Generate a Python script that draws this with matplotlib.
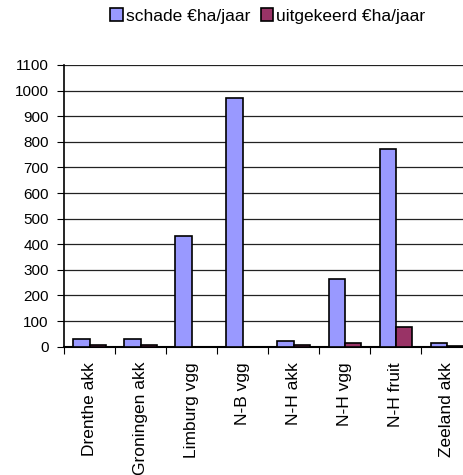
import matplotlib
matplotlib.use("Agg")
import matplotlib.pyplot as plt
import numpy as np

categories = ["Drenthe akk", "Groningen akk", "Limburg vgg", "N-B vgg",
              "N-H akk", "N-H vgg", "N-H fruit", "Zeeland akk"]
schade = [32, 30, 432, 970, 23, 264, 772, 14]
uitgekeerd = [7, 7, 0, 0, 5, 14, 77, 4]
yticks = list(range(0, 1101, 100))

plt.rcParams['font.family'] = ['Liberation Sans', 'DejaVu Sans']

W, H = 464, 475
fig = plt.figure(figsize=(W/100, H/100), dpi=100)
left, right = 64/W, 472.5/W
bottom, top = 1-346.7/H, 1-65/H
ax = fig.add_axes([left, bottom, right-left, top-bottom])

x = np.arange(len(categories))
bw = 0.32
ax.bar(x - bw/2, schade, bw, color='#9999FF', edgecolor='black', linewidth=1.2,
       label='schade €ha/jaar', zorder=3)
ax.bar(x + bw/2, uitgekeerd, bw, color='#993366', edgecolor='black', linewidth=1.2,
       label='uitgekeerd €ha/jaar', zorder=3)

ax.set_xlim(-0.5, len(categories)-0.5)
ax.set_ylim(0, 1100)
ax.set_yticks(yticks)
ax.set_yticklabels([str(v) for v in yticks], fontsize=11)
ax.yaxis.grid(True, color='#222222', linewidth=0.9, zorder=0)
ax.set_axisbelow(True)

ax.set_xticks(x)
ax.set_xticklabels(categories, rotation=90, fontsize=12.5)
ax.tick_params(axis='x', which='major', length=0, pad=11)
ax.set_xticks(np.arange(-0.5, len(categories), 1), minor=True)
ax.tick_params(axis='x', which='minor', length=5, width=0.8, color='black')
ax.tick_params(axis='y', length=5, width=0.8, pad=6, color='black')

for s in ['top', 'right']:
    ax.spines[s].set_visible(False)
ax.spines['left'].set_linewidth(1.2)
ax.spines['bottom'].set_linewidth(1.5)

leg = fig.legend(loc='center', bbox_to_anchor=(268/W, 1-16/H), ncol=2, frameon=False,
                 fontsize=12.5, handlelength=0.7, handleheight=0.7, handletextpad=0.2,
                 columnspacing=0.6)

fig.savefig("out.png", dpi=100)
